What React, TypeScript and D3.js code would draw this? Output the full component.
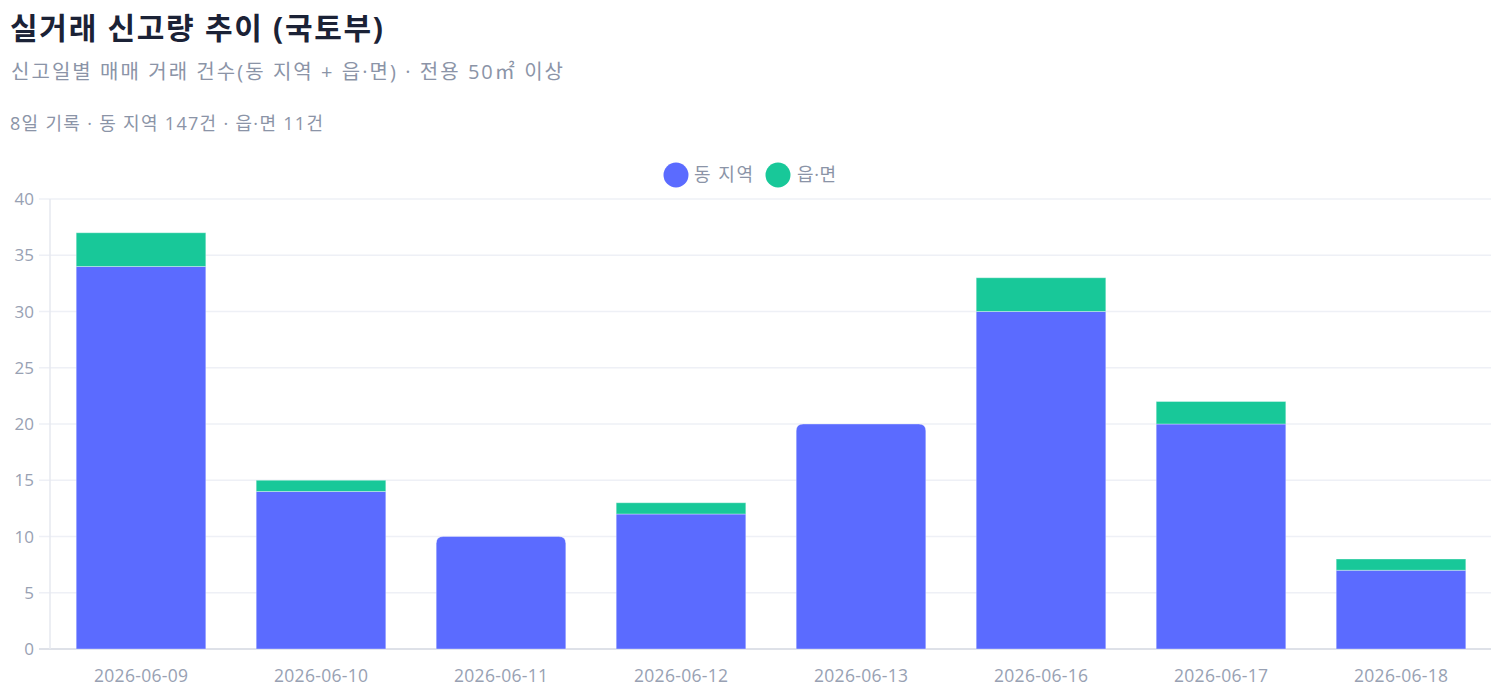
import React from 'react';
import * as d3 from 'd3';

const dates = ['2026-06-09', '2026-06-10', '2026-06-11', '2026-06-12', '2026-06-13', '2026-06-16', '2026-06-17', '2026-06-18'];
const dongCounts = [34, 14, 10, 12, 20, 30, 20, 7];
const eupCounts = [3, 1, 0, 1, 0, 3, 2, 1];
const yTicks = [0, 5, 10, 15, 20, 25, 30, 35, 40];

const FONT = '"Open Sans", "Noto Sans CJK KR", sans-serif';
const BLUE = '#5b6bff';
const GREEN = '#18c899';
const GREY = '#8b94a7';

const W = 1492;
const H = 694;
const M = { left: 51, right: 1491, top: 199, bottom: 649 };

// path for a bar with rounded top corners
function topRounded(x: number, y: number, w: number, h: number, r: number) {
  const rr = Math.min(r, h, w / 2);
  return `M${x},${y + h}V${y + rr}Q${x},${y} ${x + rr},${y}H${x + w - rr}Q${x + w},${y} ${x + w},${y + rr}V${y + h}Z`;
}

export default function App() {
  const x = d3.scaleBand<string>()
    .domain(dates)
    .range([M.left, M.right])
    .paddingInner(0.28)
    .paddingOuter(0.14);
  const y = d3.scaleLinear().domain([0, 40]).range([M.bottom, M.top]);

  const totalDong = d3.sum(dongCounts);
  const totalEup = d3.sum(eupCounts);

  return (
    <svg width={W} height={H} style={{ position: 'absolute', left: 0, top: 0, fontFamily: FONT }}>
      <rect width={W} height={H} fill="#fff" />
      <text x={10} y={39} fontSize={30} fontWeight={700} fill="#1b2236" textLength={373} lengthAdjust="spacing">실거래 신고량 추이 (국토부)</text>
      <text x={11} y={79} fontSize={20} fill={GREY} textLength={552} lengthAdjust="spacing">신고일별 매매 거래 건수(동 지역 + 읍·면) · 전용 50㎡ 이상</text>
      <text x={10} y={130} fontSize={18} fill={GREY} textLength={313} lengthAdjust="spacing">{`${dates.length}일 기록 · 동 지역 ${totalDong}건 · 읍·면 ${totalEup}건`}</text>

      {/* legend */}
      <circle cx={676} cy={175} r={12.5} fill={BLUE} />
      <text x={694} y={181} fontSize={18} fill={GREY} textLength={59} lengthAdjust="spacing">동 지역</text>
      <circle cx={778} cy={175} r={12.5} fill={GREEN} />
      <text x={797} y={181} fontSize={18} fill={GREY} textLength={39} lengthAdjust="spacing">읍·면</text>

      {/* grid */}
      {yTicks.map(t => (
        <g key={t}>
          <line x1={39} x2={M.right} y1={y(t)} y2={y(t)} stroke={t === 0 ? '#d3d7e0' : '#eef0f6'} strokeWidth={1.5} />
          <text x={34} y={y(t) + 6} fontSize={17} textAnchor="end" fill="#98a1b3">{t}</text>
        </g>
      ))}
      <line x1={50} x2={50} y1={M.top} y2={M.bottom} stroke="#e6e8ef" strokeWidth={1.5} />

      {/* bars */}
      {dates.map((d, i) => {
        const bx = x(d)!;
        const bw = x.bandwidth();
        const dongTop = y(dongCounts[i]);
        const eupTop = y(dongCounts[i] + eupCounts[i]);
        const hasEup = eupCounts[i] > 0;
        return (
          <g key={d}>
            {hasEup ? (
              <rect x={bx} y={dongTop} width={bw} height={M.bottom - dongTop} fill={BLUE} stroke="rgba(255,255,255,0.35)" />
            ) : (
              <path d={topRounded(bx, dongTop, bw, M.bottom - dongTop, 7)} fill={BLUE} stroke="rgba(255,255,255,0.35)" />
            )}
            {hasEup && (
              <rect x={bx} y={eupTop} width={bw} height={dongTop - eupTop} fill={GREEN} stroke="rgba(255,255,255,0.35)" />
            )}
            <text x={bx + bw / 2} y={682} fontSize={17.5} textAnchor="middle" fill="#98a1b3" textLength={94} lengthAdjust="spacing">{d}</text>
          </g>
        );
      })}
    </svg>
  );
}
